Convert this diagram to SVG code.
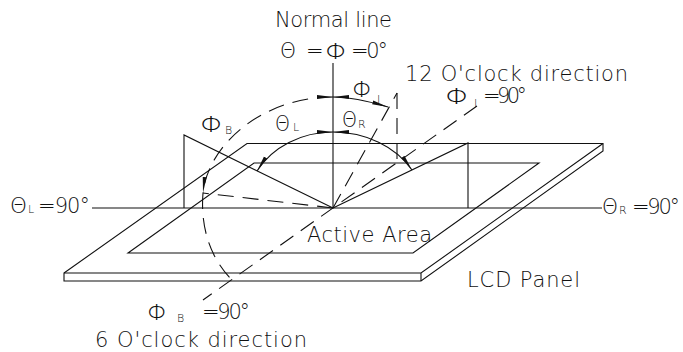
<svg xmlns="http://www.w3.org/2000/svg" width="683" height="352" viewBox="0 0 683 352">
<style>
.ln{fill:none;stroke:#111;stroke-width:1.1;stroke-linecap:butt}
.ds{fill:none;stroke:#111;stroke-width:1.1;stroke-dasharray:16 9}
.ar{fill:none;stroke:#111;stroke-width:1.1}
.t{font-family:"DejaVu Sans","Liberation Sans",sans-serif;font-weight:200;fill:#111;font-size:21px}
.g{font-family:"DejaVu Sans","Liberation Sans",sans-serif;font-weight:200;fill:#111;font-size:22px}
.s{font-family:"DejaVu Sans","Liberation Sans",sans-serif;font-weight:200;fill:#111;font-size:11px}
</style>
<defs>
<marker id="ah" viewBox="0 0 16 5" markerWidth="16" markerHeight="5" refX="16" refY="2.5" orient="auto-start-reverse" markerUnits="userSpaceOnUse">
<path d="M0,0.6 L16,2.5 L0,4.4 z" fill="#111"/>
</marker>
</defs>
<rect width="683" height="352" fill="#fff"/>
<g id="lcd-panel">
<path class="ln" d="M64,273 L247,143.5 L603,143.5 L603,151 L421,281 L64,281 Z"/>
<path class="ln" d="M64,273 L421,273 L603,143.5 M421,273 L421,281"/>
</g>
<g id="active-area">
<path class="ln" d="M128,253 L254,163 L539,163 L413,253 Z"/>
</g>
<g id="axes">
<line class="ln" x1="333" y1="63" x2="333" y2="208"/>
<line class="ln" x1="92" y1="208" x2="602" y2="208"/>
</g>
<g id="left-plane">
<path class="ln" d="M184,208 L184,135 L333,208"/>
</g>
<g id="right-plane">
<path class="ln" d="M468,208 L468,143 L333,208"/>
</g>
<g id="connectors">
<line class="ds" x1="333" y1="208" x2="397" y2="93"/>
<line class="ds" x1="397" y1="93" x2="397" y2="163" stroke-dasharray="20 8"/>
<line class="ds" x1="477" y1="106" x2="203" y2="300" stroke-dasharray="18 10"/>
<line class="ds" x1="333" y1="208" x2="203" y2="193" stroke-dasharray="20 10"/>
<path class="ds" d="M333,97 C262,97 208,145 203,193" marker-start="url(#ah)" marker-end="url(#ah)"/>
<path class="ds" d="M203,193 C200,230 212,260 232,280"/>
<path class="ar" d="M333,97 Q355,97 388,107" marker-start="url(#ah)" marker-end="url(#ah)"/>
<path class="ar" d="M333,132 A87,76 0 0 0 257,171" marker-start="url(#ah)" marker-end="url(#ah)"/>
<path class="ar" d="M333,132 A91.2,76 0 0 1 412,170" marker-start="url(#ah)" marker-end="url(#ah)"/>
</g>
<g id="labels">
<text class="t" x="275" y="27" font-size="19" textLength="117" lengthAdjust="spacing">Normal line</text>
<text class="g" x="280" y="58" textLength="16" lengthAdjust="spacingAndGlyphs">Θ</text>
<text class="t" x="306" y="58">=</text>
<text class="g" x="325" y="59" font-size="23" textLength="23" lengthAdjust="spacingAndGlyphs">Φ</text>
<text class="t" x="351" y="58" textLength="37" lengthAdjust="spacing">=0°</text>
<text class="t" x="405" y="81" textLength="223" lengthAdjust="spacing">12 O'clock direction</text>
<text class="g" x="445" y="104" font-size="23" textLength="25" lengthAdjust="spacingAndGlyphs">Φ</text><text class="s" x="474" y="107">I</text>
<text class="t" x="483" y="103" textLength="44" lengthAdjust="spacing">=90°</text>
<text class="g" x="352" y="97" textLength="21" lengthAdjust="spacingAndGlyphs">Φ</text><text class="s" x="377" y="103">I</text>
<text class="g" x="342" y="127" textLength="15" lengthAdjust="spacingAndGlyphs">Θ</text><text class="s" x="358" y="128">R</text>
<text class="g" x="275" y="131" textLength="15" lengthAdjust="spacingAndGlyphs">Θ</text><text class="s" x="293" y="131">L</text>
<text class="g" x="200" y="132" textLength="24" lengthAdjust="spacingAndGlyphs">Φ</text><text class="s" x="225" y="134">B</text>
<text class="g" x="10" y="213" textLength="17" lengthAdjust="spacingAndGlyphs">Θ</text><text class="s" x="28" y="213">L</text>
<text class="t" x="38" y="213" textLength="52" lengthAdjust="spacing">=90°</text>
<text class="g" x="602" y="214" textLength="16" lengthAdjust="spacingAndGlyphs">Θ</text><text class="s" x="619" y="214">R</text>
<text class="t" x="632" y="214" textLength="48" lengthAdjust="spacing">=90°</text>
<text class="t" x="307" y="242" textLength="125" lengthAdjust="spacing">Active Area</text>
<text class="t" x="467" y="287" textLength="113" lengthAdjust="spacing">LCD Panel</text>
<text class="g" x="147" y="320" textLength="21" lengthAdjust="spacingAndGlyphs">Φ</text><text class="s" x="177" y="322">B</text>
<text class="t" x="202" y="319" textLength="48" lengthAdjust="spacing">=90°</text>
<text class="t" x="95" y="347" textLength="212" lengthAdjust="spacing">6 O'clock direction</text>
</g>
</svg>
